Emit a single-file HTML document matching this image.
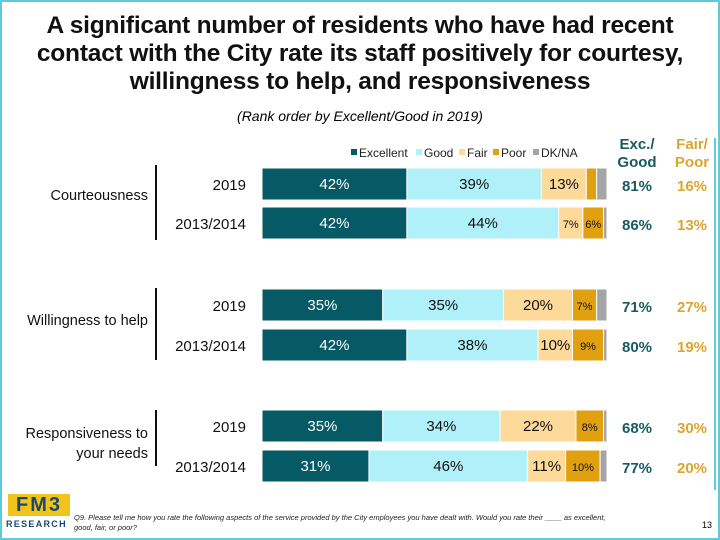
<!DOCTYPE html>
<html><head><meta charset="utf-8"><style>
body{margin:0;width:720px;height:540px;overflow:hidden;background:#fff;font-family:"Liberation Sans",sans-serif}
#frame{position:absolute;left:0;top:0;width:716px;height:536px;border:2px solid #5fcbd8}
.t{position:absolute;white-space:nowrap}
</style></head><body>
<div id="frame"></div>
<div class="t" style="left:0;width:720px;top:12px;text-align:center;font-size:24.5px;font-weight:bold;line-height:28px;color:#111;letter-spacing:-0.2px">A significant number of residents who have had recent<br>contact with the City rate its staff positively for courtesy,<br>willingness to help, and responsiveness</div>
<div class="t" style="left:0;width:720px;top:108px;text-align:center;font-size:14px;font-style:italic">(Rank order by Excellent/Good in 2019)</div>
<svg id="chart" width="720" height="540" style="position:absolute;left:0;top:0"></svg>
<div class="t" style="left:74px;top:513px;font-size:7.5px;font-style:italic;line-height:10px;color:#222">Q9. Please tell me how you rate the following aspects of the service provided by the City employees you have dealt with. Would you rate their ____ as excellent,<br>good, fair, or poor?</div>
<div class="t" style="left:702px;top:520px;font-size:9px">13</div>
<div style="position:absolute;left:8px;top:494px;width:62px;height:22px;background:#f2c31a;font:bold 20px 'Liberation Sans',sans-serif;color:#1a4a6e;text-align:center;line-height:22px;letter-spacing:2px">FM3</div>
<div class="t" style="left:6px;top:519px;font-size:9px;font-weight:bold;color:#1a4a6e;letter-spacing:1.3px">RESEARCH</div>
<script>
const groups=["Courteousness","Willingness to help","Responsiveness to your needs"];
const years=["2019","2013/2014","2019","2013/2014","2019","2013/2014"];
const excellent=[42,42,35,42,35,31];
const good=[39,44,35,38,34,46];
const fair=[13,7,20,10,22,11];
const poor=[3,6,7,9,8,10];
const dkna=[3,1,3,1,1,2];
const excGood=[81,86,71,80,68,77];
const fairPoor=[16,13,27,19,30,20];
const fairLabels=["13%","7%","20%","10%","22%","11%"];
const poorLabels=["","6%","7%","9%","8%","10%"];
const NS="http://www.w3.org/2000/svg";
const svg=document.getElementById('chart');
const x0=262,pxPer=3.45;
const rowY=[168,207,289,329,410,450],barH=32;
function xs(v){return v*pxPer;}
function el(tag,a,txt){const e=document.createElementNS(NS,tag);for(const k in a)e.setAttribute(k,a[k]);if(txt!==undefined)e.textContent=txt;svg.appendChild(e);return e;}
const cols=["#055a65","#b0f0f8","#fdd99a","#e0a010","#a5a5a5"];
const txtCol=["#fff","#111","#111","#111","#111"];
const series=[excellent,good,fair,poor,dkna];
const sNames=["excellent","good","fair","poor","dkna"];
for(let i=0;i<years.length;i++){
  let x=x0;const y=rowY[i];
  for(let s=0;s<5;s++){
    const w=xs(series[s][i]);
    const r=el('rect',{x:x,y:y,width:w,height:barH,fill:cols[s],stroke:'#fff','stroke-width':1});
    
    
    let lab=null;
    if(s<2)lab=series[s][i]+'%';else if(s==2)lab=fairLabels[i];else if(s==3)lab=poorLabels[i];
    if(lab){
      const fs=(s==3||(s==2&&series[s][i]<10))?11:15;
      const t=el('text',{x:x+w/2,y:y+barH/2+5,'text-anchor':'middle','font-size':fs,fill:txtCol[s],'font-family':'Liberation Sans'},lab);
      
      
    }
    x+=w;
  }
  const yl=el('text',{x:246,y:y+barH/2+6,'text-anchor':'end','font-size':15,fill:'#111'},years[i]);
  
  
  const eg=el('text',{x:637,y:y+barH/2+7,'text-anchor':'middle','font-size':15,'font-weight':'bold',fill:'#185a62'},excGood[i]+'%');
  
  
  const fp=el('text',{x:692,y:y+barH/2+7,'text-anchor':'middle','font-size':15,'font-weight':'bold',fill:'#dca530'},fairPoor[i]+'%');
  
  
}
const gLab=[[["Courteousness"],200],[["Willingness to help"],325],[["Responsiveness to","your needs"],438]];
const brk=[[165,240],[288,360],[410,466]];
for(let g=0;g<3;g++){
  gLab[g][0].forEach((ln,k)=>{
    const t=el('text',{x:148,y:gLab[g][1]+k*20,'text-anchor':'end','font-size':14.5,fill:'#111'},ln);
    
    
  });
  const l=el('line',{x1:156,x2:156,y1:brk[g][0],y2:brk[g][1],stroke:'#111','stroke-width':2});
  
  
}
const lg=[["Excellent",359],["Good",424],["Fair",467],["Poor",501],["DK/NA",541]];
lg.forEach((d,k)=>{
  const r=el('rect',{x:d[1]-8,y:149,width:6,height:6,fill:cols[k]});
  
  
  const t=el('text',{x:d[1],y:157,'font-size':12,fill:'#222'},d[0]);
  
  
});
[["Exc./",149],["Good",167]].forEach((d,k)=>{const t=el('text',{x:637,y:d[1],'text-anchor':'middle','font-size':15,'font-weight':'bold',fill:'#185a62'},d[0]);});
[["Fair/",149],["Poor",167]].forEach((d,k)=>{const t=el('text',{x:692,y:d[1],'text-anchor':'middle','font-size':15,'font-weight':'bold',fill:'#dca530'},d[0]);});
const vl=el('line',{x1:715,x2:715,y1:138,y2:490,stroke:'#5fcbd8','stroke-width':2});


</script>
</body></html>
